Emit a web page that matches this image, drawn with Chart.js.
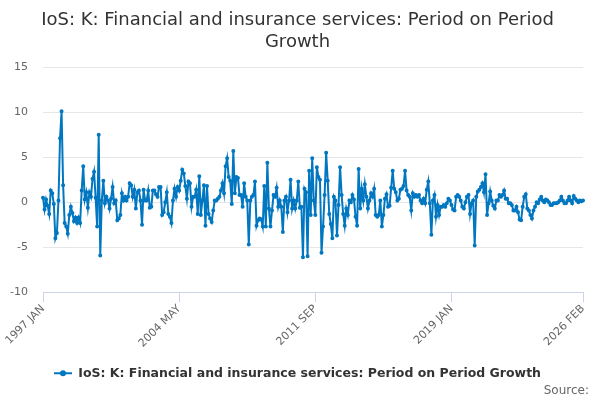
<!DOCTYPE html>
<html>
<head>
<meta charset="utf-8">
<title>IoS: K: Financial and insurance services: Period on Period Growth</title>
<script src="https://cdn.jsdelivr.net/npm/chart.js@4.4.1/dist/chart.umd.min.js"></script>
<style>
  html, body { margin: 0; padding: 0; background: #ffffff; }
  #wrap { width: 600px; height: 400px; }
</style>
</head>
<body>
<div id="wrap"><canvas id="growthChart"></canvas></div>
<script>
// Categories: monthly, 1997 JAN .. 2026 FEB
const monthNames = ["JAN", "FEB", "MAR", "APR", "MAY", "JUN", "JUL", "AUG", "SEP", "OCT", "NOV", "DEC"];
const firstYear = 1997;
const lastYear = 2026;
const lastMonthIndex = 1; // FEB

// Only these labels are shown on the x axis
const tickLabels = ["1997 JAN", "2004 MAY", "2011 SEP", "2019 JAN", "2026 FEB"];

// Period on period growth (%)
const from1997Jan = [0.5, -0.8, 0.3, -0.4, -1.3, 1.3, 1.0, -0.2, -4.0, -3.4, 0.2, 7.1, 10.1, 1.9,
  -2.3, -2.7, -3.5, -1.4, -0.5, -1.2, -2.1, -1.7, -2.3, -1.7, -2.3, 1.3, 4.0, 0.3];
const from1999May = [1.1, -0.6, 1.1, 0.6, 2.6, 3.4, 0.5, -2.7, 7.5, -5.9, 0.2, 2.4, -0.1, 0.6, 0.2,
  -0.7, 0.4, 1.7, -0.1, 0.2, -2.0, -1.8, -1.4, 1.0, 0.2, 0.6, 0.2, 0.6, 2.1];
const from2001Oct = [1.9, 0.6, 1.4, -0.7, 1.1, 1.3, 0.2, -2.5, 1.4, 0.2, 0.2, 1.3, -0.6, -0.5, 1.3,
  1.3, 0.9, 0.6, 1.7, 1.7, -1.4, -1.1, 0.0, 1.1, -1.3, -1.6, -2.3, 0.2, 1.5];
const from2004Mar = [0.6, 1.7, 1.3, 2.4, 3.6, 3.2, 1.8, 0.4, 2.3, 2.1, -0.5, 0.6, 0.6, 1.4, -1.3,
  2.9, -1.4, 0.2, 1.9, -2.6, 1.8, -1.3, -1.8, -2.2, -0.9, 0.2, 0.2, 0.4, 0.6, 1.3, 2.1];
const from2006Oct = [1.0, 4.0, 4.9, 2.8, 2.4, -0.2, 5.7, 1.0, 2.8, 2.7, 0.8, 0.8, -0.5, 2.1, 0.6,
  0.2, -4.7, 0.2, 0.6, 0.8, 2.3, -2.6, -2.0, -1.8, -1.9, -2.7, 1.8, -2.7, 4.4, -0.7];
const from2009Apr = [-2.7, -0.9, 0.8, 0.6, 1.6, -0.5, 0.2, -0.5, -3.3, 0.2, 0.6, -1.1, 0.2, 2.5, -0.7,
  0.2, -0.7, 0.2, 2.3, -0.6, -0.5, -6.1, 1.5, 1.1, -6.0, 3.5, -1.4, 4.9, 0.2];
const from2011Sep = [-1.4, 3.9, 2.8, 2.5, -5.6, -2.7, 0.8, 5.5, 2.4, -1.3, -2.4, -4.0, 0.6, 0.2, -3.7,
  -0.3, 3.9, 0.8, -1.3, -2.6, -0.7, -1.4, 0.2, 0.0, 0.8, 0.3, -1.6];
const from2013Dec = [-2.6, 3.7, -0.7, 1.5, 0.2, 2.0, 0.6, -0.7, 0.2, 1.0, 0.6, 1.5, -1.4, -1.6, -1.4,
  0.2, -2.7, -1.4, 0.4, 0.9, -0.5, -0.4, 1.6, 3.5, 1.5, 1.1, 0.2, 0.4, 1.4, 1.5, 1.8, 3.5];
const from2016Aug = [1.3, 0.8, 0.6, -0.9, 1.0, 0.6, 0.8, 0.6, 0.8, 0.2, -0.1, 0.4, -0.1, 1.4, 2.3,
  -0.1, -3.6, 0.2, 0.8, -1.6, -0.3, -1.4, -0.5, -0.5, -0.3, -0.5, -0.1, 0.4, 0.2, -0.3, -0.8];
const from2019Mar = [-0.9, 0.6, 0.8, 0.6, 0.2, -0.5, -0.7, 0.0, 0.6, 0.8, -1.3, -0.1, 0.2, -4.8, 0.6,
  1.2, 1.4, 1.7, 2.1, 1.1, 3.1, -1.4, -0.1, 1.2, 0.2, -0.4, -0.7, 0.2, 0.2, 0.8];
const from2021Sep = [0.6, 0.8, 1.3, 0.4, 0.4, -0.1, -0.1, -0.3, -0.9, -0.9, -0.5, -1.1, -1.9, -2.0, -0.5,
  0.6, 0.9, -0.7, -0.9, -1.4, -1.8, -0.9, -0.5, 0.0, -0.1, 0.3, 0.6, 0.2, 0.0, 0.3];
const from2024Mar = [0.2, 0.0, -0.3, -0.3, -0.1, -0.1, -0.1, 0.0, 0.2, 0.6, 0.2, -0.1, -0.1, 0.2, 0.6,
  0.2, -0.1, 0.7, 0.4, 0.2, 0.0, 0.2, 0.1, 0.2];

const growth = [].concat(from1997Jan, from1999May, from2001Oct, from2004Mar, from2006Oct, from2009Apr,
  from2011Sep, from2013Dec, from2016Aug, from2019Mar, from2021Sep, from2024Mar);

const labels = [];
for (let y = firstYear; y <= lastYear; y++) {
  for (let m = 0; m < 12; m++) {
    if (y === lastYear && m > lastMonthIndex) break;
    labels.push(y + " " + monthNames[m]);
  }
}

const seriesName = "IoS: K: Financial and insurance services: Period on Period Growth";
const lineColor = "#0077c0";
const fontFamily = "'DejaVu Sans', Verdana, sans-serif";

// draws the marker dot over the middle of the legend line
const legendDot = {
  id: "legendDot",
  afterDraw(chart) {
    const legend = chart.legend;
    if (!legend || !legend.legendHitBoxes.length) return;
    const box = legend.legendHitBoxes[0];
    const c = chart.ctx;
    c.save();
    c.fillStyle = lineColor;
    c.beginPath();
    c.arc(box.left + 9, box.top + box.height / 2, 3, 0, Math.PI * 2);
    c.fill();
    c.restore();
  }
};

const ctx = document.getElementById("growthChart").getContext("2d");
new Chart(ctx, {
  type: "line",
  data: {
    labels,
    datasets: [{
      label: seriesName,
      data: growth,
      borderColor: lineColor,
      backgroundColor: lineColor,
      borderWidth: 2,
      pointRadius: 1,
      pointBorderWidth: 2,
      pointBorderColor: lineColor,
      pointBackgroundColor: lineColor,
      tension: 0,
      fill: false
    }]
  },
  options: {
    responsive: true,
    maintainAspectRatio: false,
    animation: false,
    layout: {
      padding: { left: 6, right: 11, top: 6, bottom: 2 }
    },
    scales: {
      x: {
        offset: false,
        border: { display: true, color: "#ccd6eb", width: 1 },
        grid: {
          drawOnChartArea: false,
          drawTicks: true,
          tickLength: 10,
          color: "#ccd6eb"
        },
        ticks: {
          autoSkip: false,
          minRotation: 45,
          maxRotation: 45,
          color: "#666666",
          font: { family: fontFamily, size: 11 },
          padding: 0,
          callback: function (value) {
            const lab = this.getLabelForValue(value);
            return tickLabels.includes(lab) ? lab : null;
          }
        },
        afterFit(scale) { scale.height += 3; }
      },
      y: {
        min: -10,
        max: 15,
        border: { display: false },
        grid: { color: "#e6e6e6", drawTicks: false },
        ticks: {
          stepSize: 5,
          color: "#666666",
          padding: 15,
          font: { family: fontFamily, size: 11 }
        },
        afterFit(scale) { scale.width = 37; }
      },
      // empty spacer on the right so the plot ends before the source text
      ySpacer: {
        position: "right",
        display: true,
        grid: { display: false },
        border: { display: false },
        ticks: { display: false },
        afterFit(scale) { scale.width = 6; }
      }
    },
    plugins: {
      title: {
        display: true,
        text: ["IoS: K: Financial and insurance services: Period on Period", "Growth"],
        color: "#333333",
        font: { family: fontFamily, size: 18, weight: "normal" },
        padding: { top: 4, bottom: 14 }
      },
      subtitle: {
        display: true,
        position: "bottom",
        align: "end",
        text: "Source:",
        color: "#666666",
        font: { family: fontFamily, size: 12, weight: "normal" },
        padding: { top: -6, bottom: 0 }
      },
      legend: {
        display: true,
        position: "bottom",
        labels: {
          color: "#333333",
          font: { family: fontFamily, size: 12.5, weight: "bold" },
          usePointStyle: true,
          pointStyle: "line",
          pointStyleWidth: 18,
          padding: 14
        }
      },
      tooltip: { enabled: false }
    }
  },
  plugins: [legendDot]
});
</script>
</body>
</html>
